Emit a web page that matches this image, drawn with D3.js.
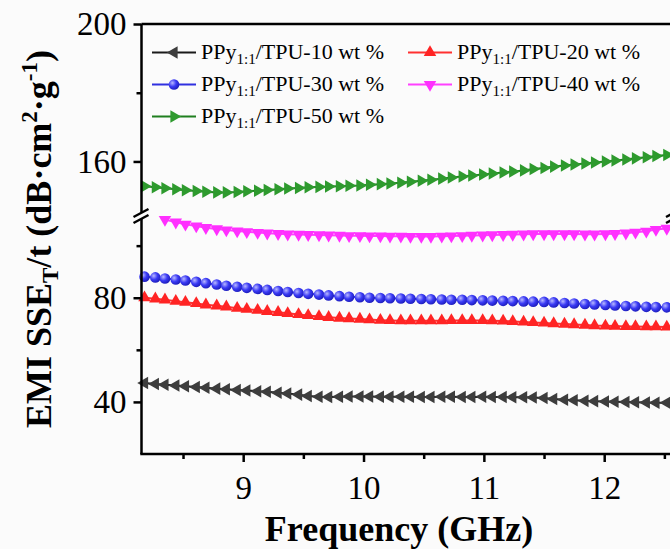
<!DOCTYPE html>
<html>
<head>
<meta charset="utf-8">
<script src="https://cdn.jsdelivr.net/npm/d3@7"></script>
<style>
  html, body { margin: 0; padding: 0; background: #fbfbfb; }
  svg { display: block; font-family: 'Liberation Serif', 'Times New Roman', serif; }
  .axis .domain { display: none; }
  .axis line { stroke: #000; stroke-width: 2.5px; }
  .axis text { font-size: 33px; fill: #000; font-family: 'Liberation Serif', serif; }
  .frame { stroke: #000; stroke-width: 2.5px; fill: none; }
</style>
</head>
<body>
<svg width="670" height="549"></svg>
<script>
// Frequency (GHz)
const frequency = [
  8.18, 8.27, 8.35, 8.44, 8.52, 8.61, 8.69, 8.78, 8.86, 8.95,
  9.03, 9.12, 9.20, 9.29, 9.37, 9.46, 9.54, 9.63, 9.71, 9.80,
  9.88, 9.97, 10.05, 10.14, 10.22, 10.31, 10.39, 10.48, 10.56, 10.65,
  10.73, 10.82, 10.90, 10.99, 11.07, 11.16, 11.24, 11.33, 11.41, 11.50,
  11.58, 11.67, 11.75, 11.84, 11.92, 12.01, 12.09, 12.18, 12.26, 12.35,
  12.43, 12.52, 12.60,
]

// EMI SSE_T/t (dB·cm²·g⁻¹)
const ppy10 = [
  47.3, 46.9, 46.6, 46.3, 46.0, 45.7, 45.4, 45.1, 44.9, 44.6,
  44.4, 44.1, 43.9, 43.5, 43.2, 42.8, 42.3, 42.0, 41.9, 42.0,
  42.1, 42.1, 42.1, 42.0, 42.0, 42.0, 42.0, 41.9, 41.9, 42.0,
  42.0, 41.9, 41.9, 42.0, 41.9, 41.9, 41.8, 41.8, 41.7, 41.5,
  41.1, 40.8, 40.6, 40.4, 40.3, 40.2, 40.1, 40.0, 39.9, 39.8,
  39.7, 39.7, 39.6,
]
const ppy20 = [
  80.0, 79.6, 79.2, 78.7, 78.3, 77.8, 77.3, 76.9, 76.5, 76.0,
  75.6, 75.2, 74.8, 74.4, 74.0, 73.6, 73.2, 72.8, 72.5, 72.2,
  72.0, 71.8, 71.6, 71.4, 71.3, 71.2, 71.2, 71.2, 71.2, 71.2,
  71.3, 71.3, 71.3, 71.3, 71.2, 71.1, 70.9, 70.7, 70.5, 70.3,
  70.1, 69.9, 69.7, 69.5, 69.3, 69.2, 69.1, 69.0, 69.0, 68.9,
  68.9, 68.8, 68.8,
]
const ppy30 = [
  88.1, 87.8, 87.4, 87.0, 86.6, 86.1, 85.6, 85.1, 84.6, 84.2,
  83.8, 83.4, 83.0, 82.6, 82.2, 81.8, 81.5, 81.2, 80.9, 80.6,
  80.4, 80.2, 80.0, 79.9, 79.8, 79.7, 79.6, 79.5, 79.4, 79.3,
  79.2, 79.2, 79.1, 79.0, 78.9, 78.8, 78.7, 78.6, 78.5, 78.4,
  78.2, 78.0, 77.8, 77.6, 77.4, 77.2, 77.0, 76.8, 76.7, 76.5,
  76.4, 76.3, 76.2,
]
const ppy40 = [
  null, null, 110.0, 109.0, 108.2, 107.5, 106.9, 106.4, 106.0, 105.6,
  105.3, 105.0, 104.8, 104.6, 104.4, 104.3, 104.2, 104.1, 104.0, 103.9,
  103.8, 103.8, 103.7, 103.7, 103.6, 103.6, 103.5, 103.5, 103.5, 103.6,
  103.7, 103.8, 103.9, 104.0, 104.1, 104.2, 104.3, 104.4, 104.5, 104.5,
  104.5, 104.5, 104.5, 104.4, 104.4, 104.5, 104.6, 104.8, 105.1, 105.5,
  106.2, 106.6, 106.8,
]
const ppy50 = [
  152.8, 152.5, 152.2, 151.9, 151.6, 151.4, 151.2, 151.0, 151.0, 151.1,
  151.3, 151.5, 151.7, 151.9, 152.1, 152.3, 152.5, 152.6, 152.7, 152.8,
  152.9, 153.0, 153.2, 153.4, 153.6, 153.8, 154.1, 154.4, 154.7, 155.0,
  155.3, 155.6, 155.9, 156.2, 156.5, 156.8, 157.1, 157.4, 157.8, 158.1,
  158.5, 158.8, 159.1, 159.4, 159.7, 160.0, 160.3, 160.6, 160.9, 161.2,
  161.6, 161.9, 162.2,
]

const seriesNames = ['10', '20', '30', '40', '50']
const xTicks = [9, 10, 11, 12]
const xMinorTicks = [8.5, 9.5, 10.5, 11.5, 12.5]
const yTicksLower = [40, 80]
const yMinorLower = [60, 100]
const yTicksUpper = [160, 200]
const yMinorUpper = [180]

const series = [
  { name: seriesNames[0], values: ppy10, color: '#3d3d3d', line: '#1a1a1a', shape: 'left', part: 'lower' },
  { name: seriesNames[1], values: ppy20, color: '#ff2424', line: '#ff3030', shape: 'up', part: 'lower' },
  { name: seriesNames[2], values: ppy30, color: '#3535f5', line: '#3030e0', shape: 'circle', part: 'lower' },
  { name: seriesNames[3], values: ppy40, color: '#ff30ff', line: '#ff40ff', shape: 'down', part: 'lower' },
  { name: seriesNames[4], values: ppy50, color: '#2e9a2e', line: '#1f7f1f', shape: 'right', part: 'upper' },
]

const plot = { left: 141.5, right: 674, top: 24, bottom: 454, breakTop: 213, breakBottom: 219 }

const svg = d3.select('svg')

const defs = svg.append('defs')
const grad = defs.append('radialGradient')
  .attr('id', 'ball')
  .attr('cx', '35%').attr('cy', '35%').attr('r', '65%')
grad.append('stop').attr('offset', '0%').attr('stop-color', '#b8b8ff')
grad.append('stop').attr('offset', '55%').attr('stop-color', '#3a3af5')
grad.append('stop').attr('offset', '100%').attr('stop-color', '#2020c0')

const xScale = d3.scaleLinear([8.155, 12.58], [plot.left, plot.right])
const yLower = d3.scaleLinear([20, 111], [plot.bottom, plot.breakBottom - 2])
const yUpper = d3.scaleLinear([145, 200], [plot.breakTop, plot.top])
const yOf = s => s.part === 'upper' ? yUpper : yLower

const rotation = { up: 0, right: 90, down: 180, left: 270 }
function drawMarker (sel, shape, color) {
  if (shape === 'circle') {
    sel.append('circle')
      .attr('r', 5.3)
      .attr('fill', 'url(#ball)')
  } else {
    sel.append('path')
      .attr('d', d3.symbol(d3.symbolTriangle, 68)())
      .attr('transform', `rotate(${ rotation[shape] })`)
      .attr('fill', color)
  }
}

// Series lines and markers
series.forEach(s => {
  const y = yOf(s)
  const pts = frequency.map((f, i) => ({ f, v: s.values[i] })).filter(d => d.v != null)
  const line = d3.line()
    .x(d => xScale(d.f))
    .y(d => y(d.v))
  const g = svg.append('g').classed('series', true)
  g.append('path')
    .datum(pts)
    .attr('d', line)
    .attr('fill', 'none')
    .attr('stroke', s.line)
    .attr('stroke-width', 2)
  g.selectAll('g.pt')
    .data(pts)
    .join('g')
    .classed('pt', true)
    .attr('transform', d => `translate(${ xScale(d.f) },${ y(d.v) })`)
    .each(function () { drawMarker(d3.select(this), s.shape, s.color) })
})

// Frame: top and left/right axis lines with break
svg.append('line').classed('frame', true)
  .attr('x1', plot.left).attr('x2', plot.right + 10)
  .attr('y1', plot.top).attr('y2', plot.top)
;[plot.left, plot.right].forEach(x => {
  svg.append('line').classed('frame', true)
    .attr('x1', x).attr('x2', x)
    .attr('y1', plot.top).attr('y2', plot.breakTop)
  svg.append('line').classed('frame', true)
    .attr('x1', x).attr('x2', x)
    .attr('y1', plot.breakBottom).attr('y2', plot.bottom)
  ;[-3, 3].forEach(dy => {
    svg.append('line').classed('frame', true)
      .attr('stroke-width', 2)
      .attr('x1', x - 8).attr('y1', 216 + dy + 4)
      .attr('x2', x + 7).attr('y2', 216 + dy - 4)
  })
})
svg.append('line').classed('frame', true)
  .attr('x1', plot.left - 1.2).attr('x2', plot.right + 10)
  .attr('y1', plot.bottom).attr('y2', plot.bottom)

// X axis
svg.append('g')
  .classed('axis', true)
  .attr('transform', `translate(0,${ plot.bottom })`)
  .call(d3.axisBottom(xScale).tickValues(xTicks).tickFormat(d3.format('d')).tickSize(8).tickPadding(14))
svg.append('g')
  .classed('axis', true)
  .attr('transform', `translate(0,${ plot.bottom })`)
  .call(d3.axisBottom(xScale).tickValues(xMinorTicks).tickFormat('').tickSize(5))

// Y axes (lower and upper part)
const yAxisLeft = (scale, ticks, minor) => {
  svg.append('g')
    .classed('axis', true)
    .attr('transform', `translate(${ plot.left },0)`)
    .call(d3.axisLeft(scale).tickValues(ticks).tickSize(8).tickPadding(7))
  svg.append('g')
    .classed('axis', true)
    .attr('transform', `translate(${ plot.left },0)`)
    .call(d3.axisLeft(scale).tickValues(minor).tickFormat('').tickSize(5))
}
yAxisLeft(yLower, yTicksLower, yMinorLower)
yAxisLeft(yUpper, yTicksUpper, yMinorUpper)

// Axis titles
svg.append('text')
  .attr('x', 399)
  .attr('y', 541)
  .attr('text-anchor', 'middle')
  .attr('font-size', 36)
  .attr('font-weight', 'bold')
  .text('Frequency (GHz)')

const yTitle = svg.append('text')
  .attr('transform', `translate(51,${ (plot.top + plot.bottom) / 2 }) rotate(-90)`)
  .attr('text-anchor', 'middle')
  .attr('font-size', 36)
  .attr('font-weight', 'bold')
yTitle.append('tspan').text('EMI SSE')
yTitle.append('tspan').attr('font-size', 23).attr('dy', 7).text('T')
yTitle.append('tspan').attr('dy', -7).text('/t (dB·cm')
yTitle.append('tspan').attr('font-size', 23).attr('dy', -14).text('2')
yTitle.append('tspan').attr('dy', 14).text('·g')
yTitle.append('tspan').attr('font-size', 23).attr('dy', -14).text('-1')
yTitle.append('tspan').attr('dy', 14).text(')')

// Legend
const legendPos = [
  { x: 152, y: 52.5 }, { x: 408, y: 52.5 },
  { x: 152, y: 84.5 }, { x: 408, y: 84.5 },
  { x: 152, y: 116.5 },
]
series.forEach((s, i) => {
  const p = legendPos[i]
  const g = svg.append('g')
    .classed('legend', true)
    .attr('transform', `translate(${ p.x },${ p.y })`)
  g.append('line')
    .attr('x1', 0).attr('x2', 44)
    .attr('stroke', s.line)
    .attr('stroke-width', 2)
  drawMarker(g.append('g').attr('transform', 'translate(22,0)'), s.shape, s.color)
  const t = g.append('text')
    .attr('x', 49)
    .attr('y', 6.5)
    .attr('font-size', 22)
  t.append('tspan').text('PPy')
  t.append('tspan').attr('font-size', 15).attr('dy', 5).text('1:1')
  t.append('tspan').attr('dy', -5).text(`/TPU-${ s.name } wt %`)
})
</script>
</body>
</html>
